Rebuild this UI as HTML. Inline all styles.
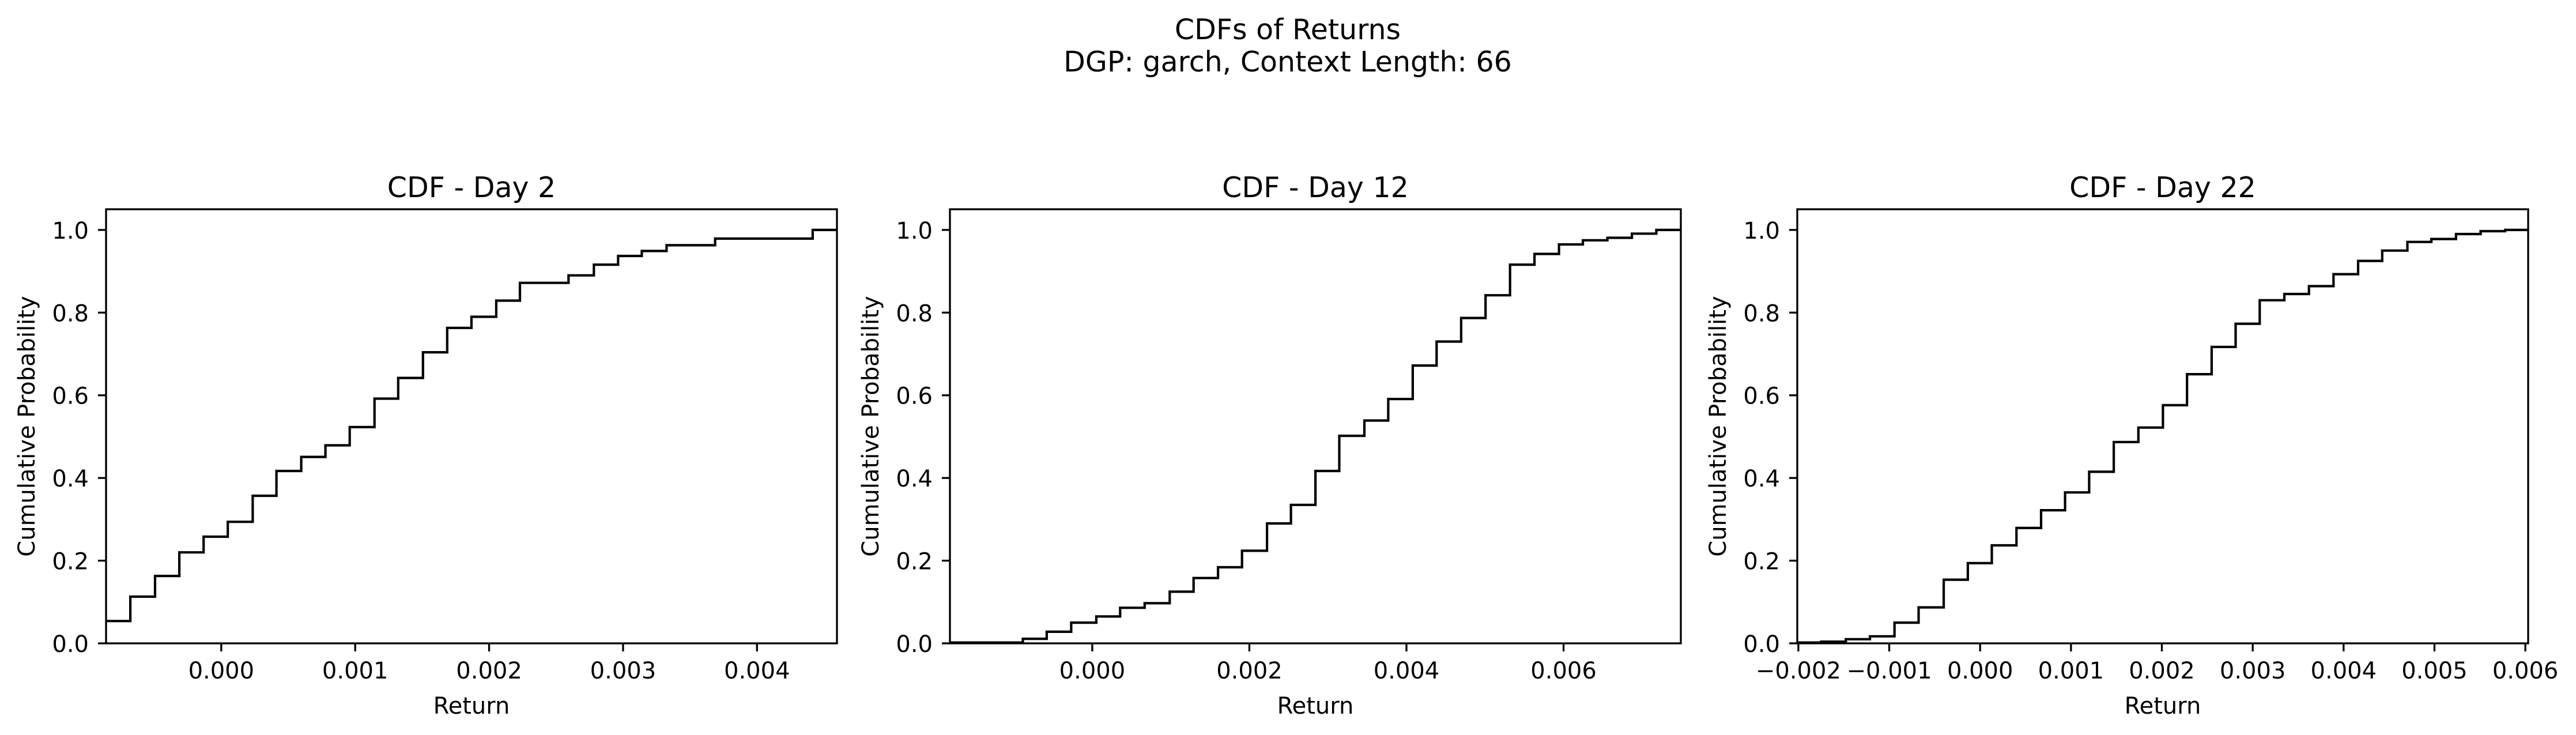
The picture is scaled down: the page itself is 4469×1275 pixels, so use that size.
<!DOCTYPE html>
<html><head><meta charset="utf-8"><style>
html,body{margin:0;padding:0;background:#fff;}
svg{display:block;font-family:"DejaVu Sans","Liberation Sans",sans-serif;}
</style></head><body>
<svg id="fig" width="4469" height="1275" viewBox="0 0 4469 1275">
<rect width="4469" height="1275" fill="#fff"/>
<text x="2234" y="68" font-size="49" text-anchor="middle">CDFs of Returns</text>
<text x="2234" y="124" font-size="49" text-anchor="middle">DGP: garch, Context Length: 66</text>
</svg>
<script>
// Panel 1 (Day 2)
const d2Steps = [-0.00086,-0.000679,-0.000494,-0.000313,-0.000132,0.000049,0.000235,0.000412,0.000597,0.000778,0.000959,0.001144,0.001321,0.001506,0.001687,0.001868,0.002053,0.00223,0.002593,0.002782,0.002963,0.00314,0.003325,0.003687,0.004416];
const d2Probs = [0.054,0.113,0.163,0.22,0.258,0.294,0.357,0.417,0.451,0.479,0.523,0.592,0.642,0.704,0.763,0.79,0.829,0.872,0.89,0.916,0.937,0.949,0.963,0.979,1.0];
const d2Ticks = [0.000,0.001,0.002,0.003,0.004];
const d2Xlim = [-0.00086,0.004597];
// Panel 2 (Day 12)
const d12Steps = [-0.001812,-0.000884,-0.00058,-0.000268,0.000051,0.000355,0.000667,0.000986,0.00129,0.001601,0.001906,0.002225,0.002529,0.002841,0.003145,0.003464,0.003768,0.00408,0.004384,0.004696,0.005007,0.005319,0.00563,0.005942,0.006246,0.006558,0.00687,0.007181];
const d12Probs = [0.002,0.011,0.028,0.05,0.065,0.086,0.097,0.125,0.158,0.184,0.224,0.29,0.335,0.417,0.502,0.539,0.591,0.672,0.73,0.787,0.842,0.916,0.942,0.965,0.975,0.981,0.991,1.0];
const d12Ticks = [0.000,0.002,0.004,0.006];
const d12Xlim = [-0.001812,0.007493];
// Panel 3 (Day 22)
const d22Steps = [-0.002012,-0.001748,-0.001477,-0.001212,-0.000942,-0.000677,-0.0004,-0.000135,0.000129,0.0004,0.000671,0.000935,0.0012,0.001471,0.001742,0.002012,0.002277,0.002548,0.002812,0.003077,0.003348,0.003619,0.003889,0.00416,0.004425,0.004702,0.004966,0.005237,0.005508,0.005778];
const d22Probs = [0.002,0.004,0.01,0.017,0.05,0.087,0.154,0.194,0.237,0.279,0.322,0.365,0.415,0.487,0.522,0.576,0.651,0.717,0.773,0.83,0.845,0.864,0.893,0.925,0.95,0.971,0.978,0.99,0.997,1.0];
const d22Ticks = [-0.002,-0.001,0.000,0.001,0.002,0.003,0.004,0.005,0.006];
const d22Xlim = [-0.002012,0.006031];
const yTicks = [0.0,0.2,0.4,0.6,0.8,1.0];
const titles = ["CDF - Day 2","CDF - Day 12","CDF - Day 22"];

const NS = "http://www.w3.org/2000/svg";
const svg = document.getElementById('fig');
function mk(tag, attrs, parent){const e=document.createElementNS(NS,tag);for(const k in attrs)e.setAttribute(k,attrs[k]);(parent||svg).appendChild(e);return e;}

const panels = [
 {left:184, steps:d2Steps, probs:d2Probs, ticks:d2Ticks, xlim:d2Xlim, name:'day-2'},
 {left:1648, steps:d12Steps, probs:d12Probs, ticks:d12Ticks, xlim:d12Xlim, name:'day-12'},
 {left:3118, steps:d22Steps, probs:d22Probs, ticks:d22Ticks, xlim:d22Xlim, name:'day-22'}
];
const W = 1268, TOP = 363, BOT = 1116;
panels.forEach((p,i)=>{
  const g = mk('g',{});
  
  
  const xs = v => p.left + (v - p.xlim[0])/(p.xlim[1]-p.xlim[0])*W;
  const ys = v => BOT - v/1.05*(BOT-TOP);
  let d = '';
  for(let k=0;k<p.steps.length;k++){
    const x0 = xs(p.steps[k]);
    const x1 = k+1<p.steps.length ? xs(p.steps[k+1]) : p.left+W;
    const y = ys(p.probs[k]);
    d += (k===0?'M':'L')+x0.toFixed(1)+','+y.toFixed(1)+' L'+x1.toFixed(1)+','+y.toFixed(1)+' ';
  }
  const path = mk('path',{d:d,fill:'none',stroke:'#000','stroke-width':4.2,'stroke-linejoin':'miter'},g);
  
  
  const fr = mk('rect',{x:p.left,y:TOP,width:W,height:BOT-TOP,fill:'none',stroke:'#000','stroke-width':3.3},g);
  
  
  p.ticks.forEach(t=>{
    const x = xs(t);
    mk('line',{x1:x,y1:BOT,x2:x,y2:BOT+14,stroke:'#000','stroke-width':3.3},g);
    const lbl = (t<0?'\u2212':'') + Math.abs(t).toFixed(3);
    const tx = mk('text',{x:x,y:1177,'font-size':40,'text-anchor':'middle'},g);
    tx.textContent = lbl;
    
    
  });
  yTicks.forEach(t=>{
    const y = ys(t);
    mk('line',{x1:p.left-14,y1:y,x2:p.left,y2:y,stroke:'#000','stroke-width':3.3},g);
    const tx = mk('text',{x:p.left-30,y:y+15,'font-size':40,'text-anchor':'end'},g);
    tx.textContent = t.toFixed(1);
    
    
  });
  const tt = mk('text',{x:p.left+W/2,y:342,'font-size':49,'text-anchor':'middle'},g);
  tt.textContent = titles[i];
  
  
  const xl = mk('text',{x:p.left+W/2,y:1238,'font-size':40,'text-anchor':'middle'},g);
  xl.textContent = 'Return';
  
  
  const lx = p.left - 124;
  const yl = mk('text',{x:lx,y:(TOP+BOT)/2,'font-size':40,'text-anchor':'middle',transform:'rotate(-90 '+lx+' '+((TOP+BOT)/2)+')'},g);
  yl.textContent = 'Cumulative Probability';
  
  
});
</script>
</body></html>
